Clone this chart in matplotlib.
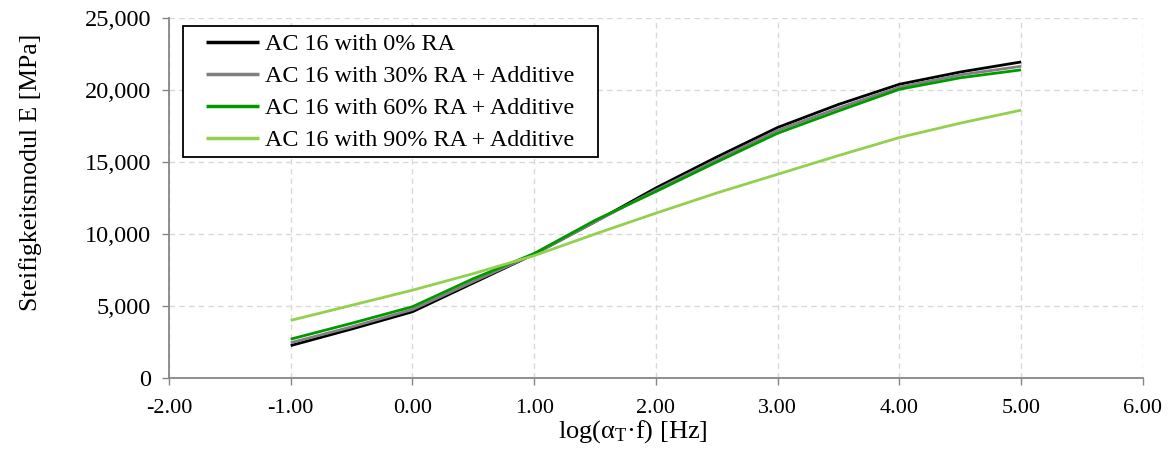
import numpy as np
import matplotlib
matplotlib.use("Agg")
import matplotlib.pyplot as plt
from matplotlib.patches import Rectangle
from matplotlib.ticker import FuncFormatter, MultipleLocator

plt.rcParams["font.family"] = ["Liberation Serif", "DejaVu Serif"]
plt.rcParams["mathtext.fontset"] = "custom"
plt.rcParams["mathtext.rm"] = "Liberation Serif"
plt.rcParams["mathtext.it"] = "Liberation Serif:italic"

# log(aT*f) in Hz
log_freq = [-1.0, -0.5, 0.0, 0.5, 1.0, 1.5, 2.0, 2.5, 3.0, 3.5, 4.0, 4.5, 5.0]

# stiffness modulus E in MPa
e_ra0 = [2250, 3400, 4600, 6600, 8600, 10850, 13200, 15350, 17400, 19000, 20400, 21250, 21950]
e_ra30 = [2450, 3550, 4750, 6700, 8600, 10850, 13050, 15150, 17200, 18750, 20200, 21050, 21650]
e_ra60 = [2700, 3800, 4950, 6900, 8650, 10950, 12950, 15000, 17000, 18550, 20050, 20850, 21400]
e_ra90 = [4000, 5050, 6100, 7250, 8500, 10000, 11450, 12850, 14150, 15450, 16700, 17700, 18600]

series_labels = [
    "AC 16 with 0% RA",
    "AC 16 with 30% RA + Additive",
    "AC 16 with 60% RA + Additive",
    "AC 16 with 90% RA + Additive",
]
series_colors = ["#000000", "#808080", "#009a00", "#92d050"]

fig = plt.figure(figsize=(11.71, 4.68), dpi=100)
ax = fig.add_axes([0.1443, 0.1923, 0.8317, 0.7692])

for values, label, color in zip([e_ra0, e_ra30, e_ra60, e_ra90], series_labels, series_colors):
    ax.plot(log_freq, values, color=color, linewidth=2.0, label=label,
            solid_joinstyle="round", solid_capstyle="butt")

ax.set_xlim(-2, 6)
ax.set_ylim(0, 25000)
ax.xaxis.set_major_locator(MultipleLocator(1))
ax.yaxis.set_major_locator(MultipleLocator(5000))
ax.xaxis.set_major_formatter(FuncFormatter(lambda v, p: f"{v:.2f}"))
ax.yaxis.set_major_formatter(FuncFormatter(lambda v, p: f"{v:,.0f}"))

ax.grid(True, color="#d9d9d9", linestyle=(0, (4, 3)), linewidth=1.0)
ax.set_axisbelow(True)
for side in ["top", "right"]:
    ax.spines[side].set_visible(False)
for side in ["left", "bottom"]:
    ax.spines[side].set_color("#868686")
    ax.spines[side].set_linewidth(1.3)
ax.tick_params(axis="both", direction="out", length=5, width=1.0, color="#868686")
ax.tick_params(axis="y", labelsize=17.5, pad=8)
ax.tick_params(axis="x", labelsize=16, pad=10)

ax.set_xlabel("log(α$_\\mathrm{T}$·f) [Hz]", fontsize=19)
ax.xaxis.set_label_coords(0.476, -0.112)
ax.set_ylabel("Steifigkeitsmodul E [MPa]", fontsize=18.5)
ax.yaxis.set_label_coords(-0.130, 0.57)

# legend box drawn separately (Excel style padding)
box = Rectangle((0.0144, 0.614), 0.4261, 0.364, transform=ax.transAxes,
                facecolor="white", edgecolor="black", linewidth=1.3, zorder=4)
ax.add_patch(box)

leg = ax.legend(loc="upper left", bbox_to_anchor=(0.038, 0.958), fontsize=17.4,
                frameon=False, borderpad=0.0, labelspacing=0.42,
                handlelength=2.2, handletextpad=0.25, borderaxespad=0.0)
leg.set_zorder(5)
for line in leg.get_lines():
    line.set_linewidth(2.5)

fig.savefig("out.png", dpi=100)
